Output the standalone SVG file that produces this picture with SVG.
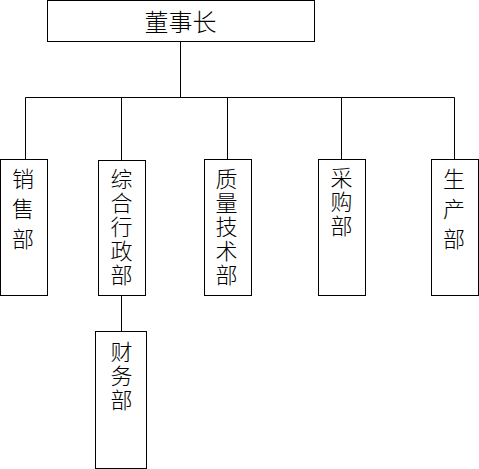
<svg xmlns="http://www.w3.org/2000/svg" width="479" height="469" viewBox="0 0 479 469">
<style>
.box{fill:#fff;stroke:#000;stroke-width:1}
.c line{stroke:#000;stroke-width:1}
text{font-family:"Noto Sans CJK SC","Noto Sans CJK JP",sans-serif;font-size:22px;font-weight:300;fill:#000;text-anchor:middle}
</style>
<rect width="479" height="469" fill="#fff"/>
<g class="c" id="connectors">
<line x1="180.5" y1="41" x2="180.5" y2="97.5"/>
<line x1="25.5" y1="97.5" x2="454.5" y2="97.5"/>
<line x1="25.5" y1="97.5" x2="25.5" y2="159.5"/>
<line x1="121.5" y1="97.5" x2="121.5" y2="160.5"/>
<line x1="227.5" y1="97.5" x2="227.5" y2="159.5"/>
<line x1="341.5" y1="97.5" x2="341.5" y2="159.5"/>
<line x1="454.5" y1="97.5" x2="454.5" y2="159.5"/>
<line x1="121.5" y1="295.5" x2="121.5" y2="331.5"/>
</g>
<g id="n_chairman">
<rect class="box" x="47.5" y="0.5" width="267" height="41"/>
<text x="180.5" y="31" style="font-size:24px">董事长</text>
</g>
<g id="n_sales">
<rect class="box" x="0.5" y="159.5" width="47" height="136"/>
<text x="23" y="187"><tspan x="23">销</tspan><tspan x="23" dy="30">售</tspan><tspan x="23" dy="30">部</tspan></text>
</g>
<g id="n_admin">
<rect class="box" x="98.5" y="160.5" width="47" height="135"/>
<text x="121.5" y="187"><tspan x="121.5">综</tspan><tspan x="121.5" dy="24">合</tspan><tspan x="121.5" dy="24">行</tspan><tspan x="121.5" dy="24">政</tspan><tspan x="121.5" dy="24">部</tspan></text>
</g>
<g id="n_quality">
<rect class="box" x="204.5" y="159.5" width="47" height="136"/>
<text x="226.5" y="187"><tspan x="226.5">质</tspan><tspan x="226.5" dy="24">量</tspan><tspan x="226.5" dy="24">技</tspan><tspan x="226.5" dy="24">术</tspan><tspan x="226.5" dy="24">部</tspan></text>
</g>
<g id="n_purchase">
<rect class="box" x="318.5" y="159.5" width="47" height="136"/>
<text x="341.5" y="186"><tspan x="341.5">采</tspan><tspan x="341.5" dy="24">购</tspan><tspan x="341.5" dy="24">部</tspan></text>
</g>
<g id="n_production">
<rect class="box" x="431.5" y="159.5" width="47" height="136"/>
<text x="454" y="187"><tspan x="454">生</tspan><tspan x="454" dy="30">产</tspan><tspan x="454" dy="30">部</tspan></text>
</g>
<g id="n_finance">
<rect class="box" x="95.5" y="331.5" width="51" height="137"/>
<text x="121.5" y="360"><tspan x="121.5">财</tspan><tspan x="121.5" dy="24">务</tspan><tspan x="121.5" dy="24">部</tspan></text>
</g>
</svg>
